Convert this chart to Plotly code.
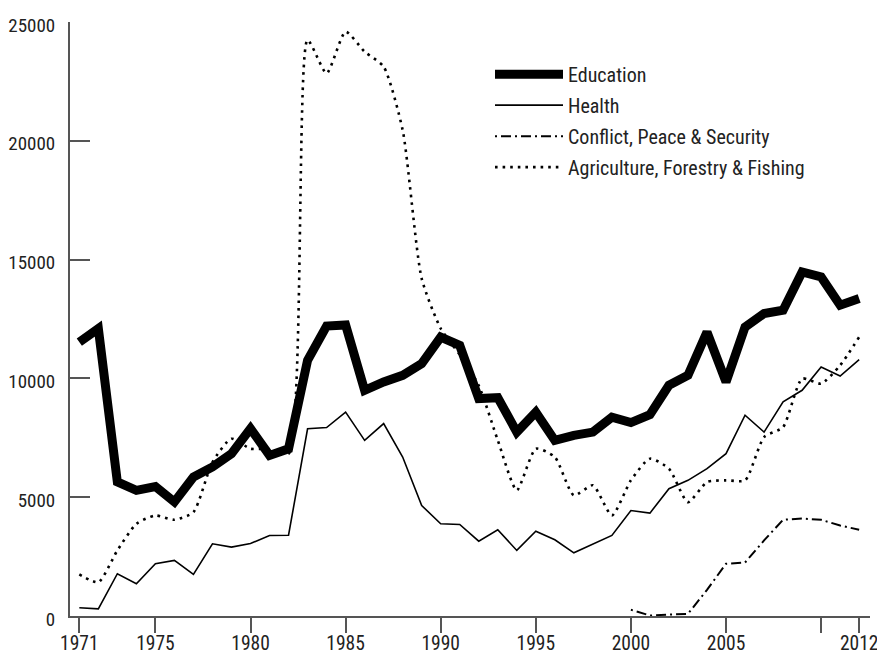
import plotly.graph_objects as go

years = list(range(1971, 2013))

education = [11530, 12100, 5640, 5290, 5450, 4800, 5850, 6270, 6830, 7890,
             6760, 7040, 10760, 12200, 12250, 9500, 9850, 10130, 10620, 11740,
             11390, 9150, 9190, 7740, 8580, 7390, 7600, 7740, 8370, 8140,
             8470, 9710, 10130, 11950, 9850, 12160, 12730, 12870, 14480, 14270,
             13080, 13360]

health = [345, 300, 1780, 1360, 2200, 2340, 1750, 3040, 2900, 3050,
          3390, 3400, 7880, 7930, 8580, 7390, 8100, 6690, 4650, 3880,
          3850, 3150, 3630, 2760, 3570, 3210, 2660, 3040, 3390, 4440,
          4330, 5360, 5710, 6200, 6830, 8450, 7740, 9010, 9500, 10480,
          10100, 10790]

conflict_years = list(range(2000, 2013))
conflict = [260, 20, 60, 90, 1100, 2200, 2250, 3180, 4050, 4100, 4050, 3810, 3630]

agriculture = [1750, 1420, 2760, 3880, 4230, 4050, 4370, 6480, 7460, 7040,
               7040, 6830, 24240, 22840, 24590, 23750, 23120, 20450, 14200, 12100,
               11000, 9700, 7400, 5290, 7040, 6690, 5080, 5500, 4230, 5710,
               6620, 6200, 4790, 5640, 5710, 5710, 7530, 7950, 9990, 9780,
               10550, 11740]

x_tickvals = [1971, 1975, 1980, 1985, 1990, 1995, 2000, 2005, 2010, 2012]
x_ticktext = ["1971", "1975", "1980", "1985", "1990", "1995", "2000", "2005", "", "2012"]
y_tickvals = [0, 5000, 10000, 15000, 20000, 25000]

FONT = "Roboto Condensed, DejaVu Sans Condensed, Liberation Sans Narrow, sans-serif"
AXIS = "#555555"

fig = go.Figure()
fig.add_trace(go.Scatter(x=years, y=education, name="Education", mode="lines",
                         legendgroup="a", cliponaxis=False,
                         line=dict(color="#000000", width=9)))
fig.add_trace(go.Scatter(x=years, y=health, name="Health", mode="lines",
                         legendgroup="b", cliponaxis=False,
                         line=dict(color="#000000", width=1.6)))
fig.add_trace(go.Scatter(x=conflict_years, y=conflict, name="Conflict, Peace &amp; Security",
                         mode="lines", legendgroup="c", cliponaxis=False,
                         line=dict(color="#000000", width=2, dash="2px,4px,10px,4px")))
fig.add_trace(go.Scatter(x=years, y=agriculture, name="Agriculture, Forestry &amp; Fishing",
                         mode="lines", legendgroup="d", cliponaxis=False,
                         line=dict(color="#000000", width=2.6, dash="2.6px,5px",
                                   shape="spline", smoothing=0.6)))

fig.update_layout(
    width=877, height=648,
    margin=dict(l=62, r=15, t=14, b=40, autoexpand=False),
    paper_bgcolor="white", plot_bgcolor="white",
    font=dict(family=FONT, size=20, color="#222222"),
    showlegend=True,
    legend=dict(x=0.525, y=0.945, xanchor="left", yanchor="top",
                font=dict(family=FONT, size=20, color="#222222"),
                tracegroupgap=2, itemwidth=68, bgcolor="rgba(0,0,0,0)"),
    xaxis=dict(range=[1970.51, 2012.57], tickmode="array", tickvals=x_tickvals,
               ticktext=x_ticktext, ticks="outside", ticklen=15, tickwidth=2,
               tickcolor=AXIS, showline=True, linecolor=AXIS, linewidth=2,
               showgrid=False, zeroline=False, tickfont=dict(size=19.5),
               ticklabelstandoff=-6, automargin=False),
    yaxis=dict(range=[0, 25000], tickmode="array", tickvals=y_tickvals,
               tickformat="d", ticks="inside", ticklen=20, tickwidth=2,
               tickcolor=AXIS, showline=True, linecolor=AXIS, linewidth=2,
               showgrid=False, zeroline=False, ticklabelstandoff=9,
               ticklabelshift=3, tickfont=dict(size=19), automargin=False),
)

fig.write_html("out.html")
